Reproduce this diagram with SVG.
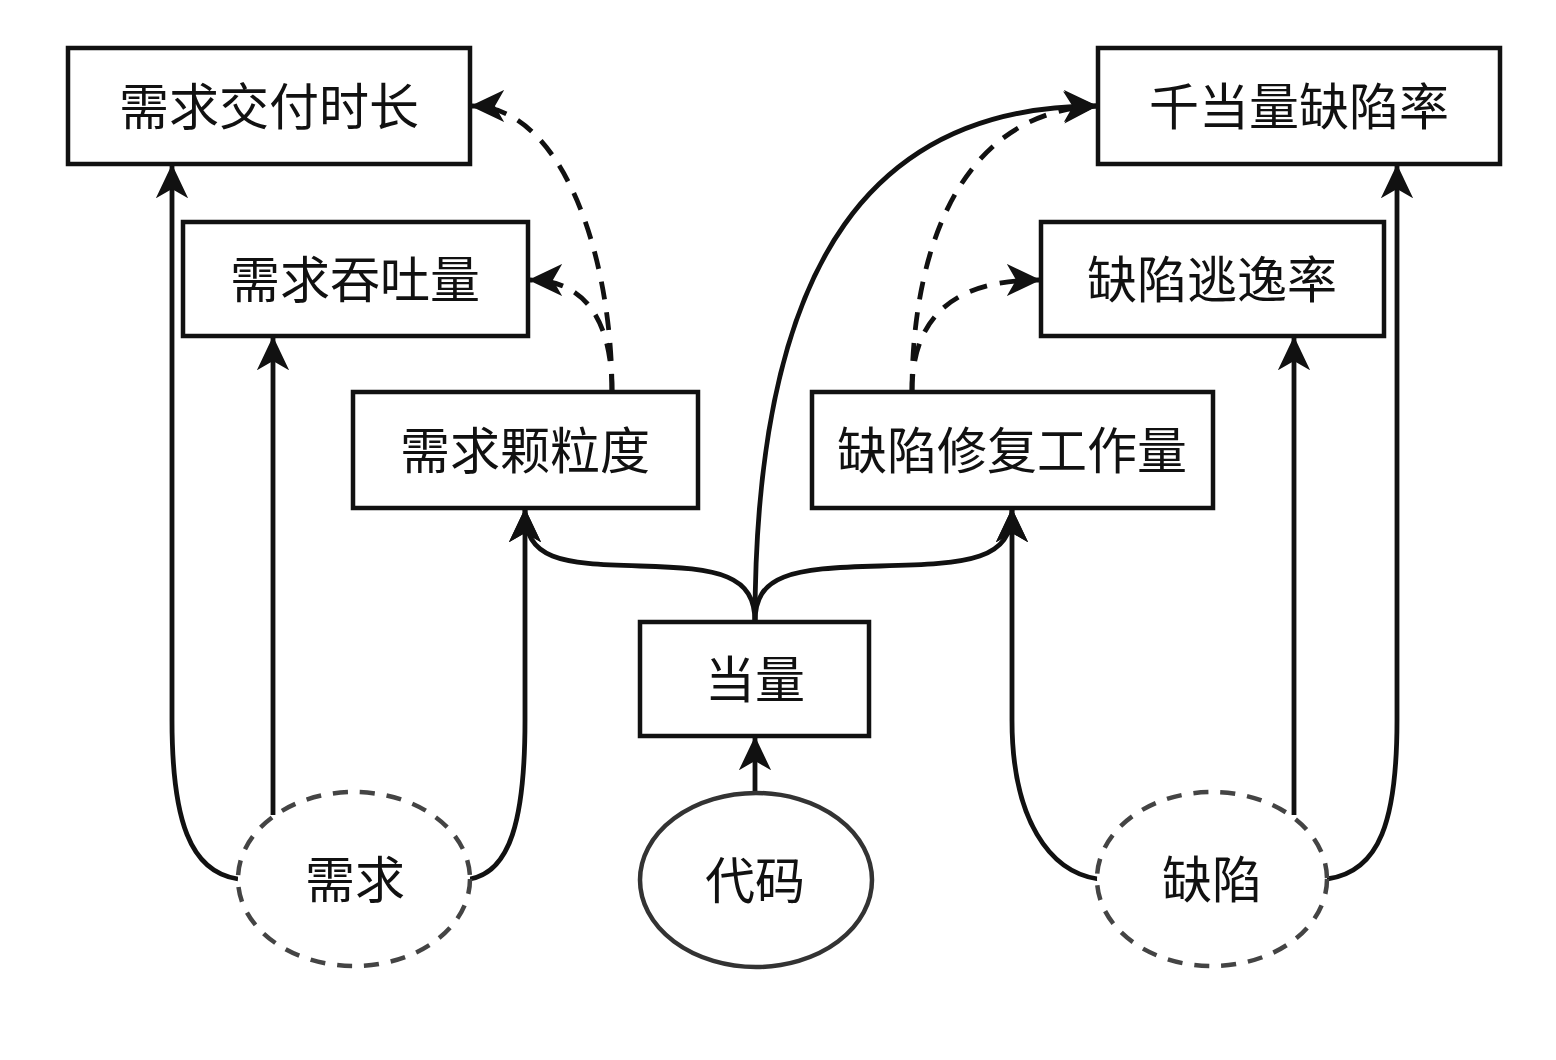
<svg xmlns="http://www.w3.org/2000/svg" width="1556" height="1060" viewBox="0 0 1556 1060">
<defs>
<style>
.box{fill:#fff;stroke:#111;stroke-width:4.5}
.lbl{font-family:"Noto Sans CJK SC","Noto Sans",sans-serif;font-size:50px;fill:#111;text-anchor:middle}
.ell{fill:#fff;stroke:#333;stroke-width:4.5}
.dell{fill:#fff;stroke:#444;stroke-width:4.5;stroke-dasharray:15 12}
.c{fill:none;stroke:#111;stroke-width:4.8;marker-end:url(#arr)}
.d{fill:none;stroke:#111;stroke-width:4.8;stroke-dasharray:18 13;marker-end:url(#arr)}
</style>
<marker id="arr" viewBox="0 0 20 20" refX="19" refY="10" markerWidth="34" markerHeight="34" markerUnits="userSpaceOnUse" orient="auto">
<path d="M20 10 L0 0.5 L5.5 10 L0 19.5 Z" fill="#111"/>
</marker>
</defs>
<rect width="1556" height="1060" fill="#fff"/>
<g id="connectors">
<path class="c" d="M238 879 C190 872 172 820 172 720 L172 166"/>
<path class="c" d="M273 815 L273 338"/>
<path class="c" d="M470 879 C510 872 525 820 525 720 L525 510"/>
<path class="d" d="M612 392 C612 250 560 106 472 106"/>
<path class="d" d="M612 392 C612 320 585 280 530 280"/>
<path class="c" d="M755 622 C755 575 720 568 640 566 C560 564 525 560 525 510"/>
<path class="c" d="M755 622 C755 575 790 568 880 566 C970 564 1012 560 1012 510"/>
<path class="c" d="M755 622 C755 250 880 106 1096 106"/>
<path class="d" d="M912 392 C912 250 960 112 1096 106"/>
<path class="d" d="M912 392 C912 320 950 280 1039 280"/>
<path class="c" d="M1098 879 C1050 872 1012 820 1012 720 L1012 510"/>
<path class="c" d="M1294 815 L1294 338"/>
<path class="c" d="M1327 879 C1380 872 1397 820 1397 720 L1397 166"/>
<path class="c" d="M755 792 L755 738"/>
</g>
<g id="n-jiaofu"><rect class="box" x="68" y="48" width="402" height="116"/><text class="lbl" x="269" y="125">需求交付时长</text></g>
<g id="n-tuntu"><rect class="box" x="183" y="222" width="345" height="114"/><text class="lbl" x="355" y="298">需求吞吐量</text></g>
<g id="n-keli"><rect class="box" x="353" y="392" width="345" height="116"/><text class="lbl" x="525" y="469">需求颗粒度</text></g>
<g id="n-xiufu"><rect class="box" x="812" y="392" width="401" height="116"/><text class="lbl" x="1012" y="469">缺陷修复工作量</text></g>
<g id="n-qiandl"><rect class="box" x="1098" y="48" width="402" height="116"/><text class="lbl" x="1299" y="125">千当量缺陷率</text></g>
<g id="n-taoyi"><rect class="box" x="1041" y="222" width="343" height="114"/><text class="lbl" x="1212" y="298">缺陷逃逸率</text></g>
<g id="n-dangliang"><rect class="box" x="640" y="622" width="229" height="114"/><text class="lbl" x="755" y="698">当量</text></g>
<g id="n-xuqiu"><ellipse class="dell" cx="354" cy="879" rx="116" ry="87"/><text class="lbl" x="355" y="898">需求</text></g>
<g id="n-daima"><ellipse class="ell" cx="756" cy="880" rx="116" ry="87"/><text class="lbl" x="755" y="899">代码</text></g>
<g id="n-quexian"><ellipse class="dell" cx="1212" cy="879" rx="115" ry="87"/><text class="lbl" x="1212" y="898">缺陷</text></g>
</svg>
